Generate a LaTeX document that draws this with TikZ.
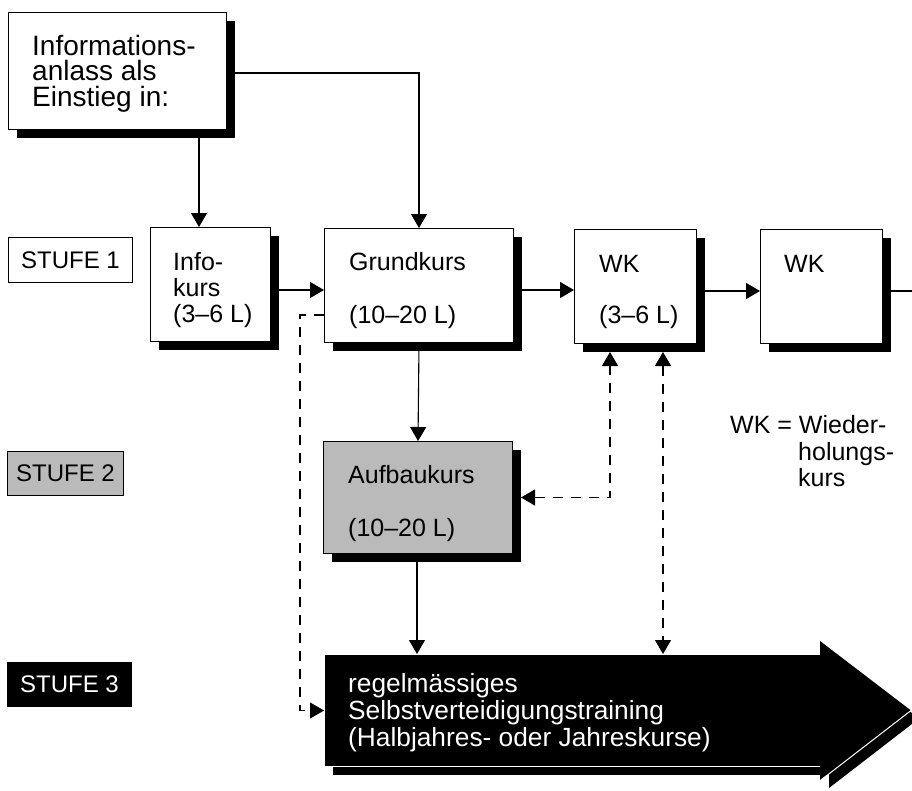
\documentclass[tikz,border=0pt]{standalone}
\usepackage{fontspec}
\setmainfont{Liberation Sans}
\usetikzlibrary{arrows.meta,shadows,calc}
\begin{document}
\begin{tikzpicture}[x=1pt,y=-1pt,
  txt/.style={font=\fontsize{25}{26}\selectfont, inner sep=0pt, anchor=base west},
  box/.style={draw=black, line width=1pt, fill=white, anchor=north west, inner sep=0pt,
     general shadow={fill=black, shadow xshift=8pt, shadow yshift=-8pt}},
  graybox/.style={box, fill=black!27},
  stufe/.style={draw=black, line width=0.9pt, anchor=north west, inner sep=0pt,
     font=\fontsize{24}{26}\selectfont},
  solidline/.style={line width=1.1pt},
  conn/.style={line width=1.1pt, -{Triangle[length=14pt,width=16pt]}},
  dconn/.style={line width=1.1pt, dash pattern=on 10pt off 8pt, -{Triangle[length=14pt,width=16pt]}},
  ddconn/.style={line width=1.1pt, dash pattern=on 10pt off 8pt,
     {Triangle[length=14pt,width=16pt]}-{Triangle[length=14pt,width=16pt]}},
]
\fill[white] (0,0) rectangle (912,790);
\useasboundingbox (0,0) rectangle (912,790);

% boxes
\node[box, minimum width=218pt, minimum height=117pt] (inf) at (8,12) {};
\node[box, minimum width=120pt, minimum height=114pt] (info) at (150,227) {};
\node[box, minimum width=189pt, minimum height=114pt] (grund) at (324,228) {};
\node[box, minimum width=122pt, minimum height=114pt] (wk1) at (574,229) {};
\node[box, minimum width=122pt, minimum height=114pt] (wk2) at (760,229) {};
\node[graybox, minimum width=189pt, minimum height=112pt] (aufbau) at (323,441) {};

% stufe labels
\node[stufe, minimum width=124pt, minimum height=45pt] (s1) at (8,237) {STUFE 1};
\node[stufe, fill=black!27, minimum width=116pt, minimum height=44pt] (s2) at (7,451) {STUFE 2};
\node[stufe, fill=black, text=white, minimum width=124pt, minimum height=44pt] (s3) at (7,662) {STUFE 3};

% big arrow
\node[anchor=north west, inner sep=0pt, fill=black, draw=white, line width=1pt,
      minimum width=496pt, minimum height=112pt,
      general shadow={fill=black, shadow xshift=8pt, shadow yshift=-8pt}] (train) at (324,654) {};
\fill[black] ($(train.north east)+(8,-5)$) -- ($(train.east)+(98,8)$) -- ($(train.south east)+(8,21)$) -- cycle;
\fill[black] ($(train.north east)+(-1,-13)$) -- ($(train.east)+(90,0)$) -- ($(train.south east)+(-1,13)$) -- cycle;
\draw[white, line width=1pt] ($(train.east)+(90,0)$) -- ($(train.south east)+(0,13)$);

% texts
\node[txt, font=\fontsize{28}{25.5}\selectfont, anchor=north west, align=left] (tinf) at (32,35)
  {Informations-\\anlass als\\Einstieg in:};
\node[txt, anchor=north west, align=left] (tinfo) at (173,252) {Info-\\kurs\\(3–6 L)};
\node[txt] (tg1) at (349,270) {Grundkurs};
\node[txt] (tg2) at (349,323) {(10–20 L)};
\node[txt] (tw1) at (599,272) {WK};
\node[txt] (tw2) at (599,323) {(3–6 L)};
\node[txt] (tw3) at (784,272) {WK};
\node[txt] (ta1) at (348,483) {Aufbaukurs};
\node[txt] (ta2) at (348,536) {(10–20 L)};
\node[txt] (leg1) at (730,433) {WK = Wieder-};
\node[txt, anchor=north west, align=left] (leg2) at (798,442) {holungs-\\kurs};
\node[txt, font=\fontsize{26.3}{27}\selectfont, text=white, anchor=north west, align=left] (ttrain) at (348,673)
  {regelmässiges\\Selbstverteidigungstraining\\(Halbjahres- oder Jahreskurse)};

% connectors
\coordinate (offright) at (912,291);
\draw[conn] (inf.south -| 199,0) -- (info.north -| 199,0);
\draw[conn] (inf.east |- 0,73) -| (grund.north);
\draw[conn] (info.east |- 0,290) -- (grund.west |- 0,290);
\draw[conn] (grund.east |- 0,290) -- (wk1.west |- 0,290);
\draw[conn] (wk1.east |- 0,291) -- (wk2.west |- 0,291);
\draw[solidline] (wk2.east |- 0,291) -- (offright);
\draw[conn] (grund.south) -- (aufbau.north);
\draw[conn] (aufbau.south -| 417,0) -- (train.north -| 417,0);
\draw[dconn] (grund.west |- 0,315) -- (300,315) |- (train.west);
\draw[ddconn] ([xshift=8pt]aufbau.east) -| ($(wk1.south west)+(36,8)$);
\draw[ddconn] ($(wk1.south west)+(89,8)$) -- (train.north -| 663,0);
\end{tikzpicture}
\end{document}
